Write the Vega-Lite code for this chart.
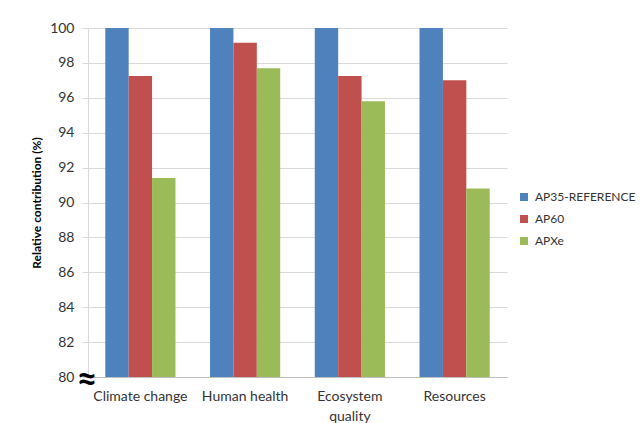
{
  "$schema": "https://vega.github.io/schema/vega-lite/v6.json",
  "width": 419,
  "height": 349,
  "autosize": {"type": "none"},
  "padding": {"left": 88, "top": 28, "right": 136, "bottom": 46},
  "background": "white",
  "config": {
    "font": "Lato",
    "view": {"stroke": null},
    "axis": {"labelFont": "Lato", "titleFont": "Lato"},
    "axisY": {
      "titleFontSize": 12,
      "titleFontWeight": "bold",
      "titleColor": "#000000",
      "titlePadding": 6,
      "labelOverlap": false,
      "labelFontSize": 14,
      "labelColor": "#333333",
      "labelPadding": 8,
      "tickSize": 6,
      "tickColor": "#d9d9d9",
      "gridColor": "#d9d9d9",
      "domainColor": "#d9d9d9"
    }
  },
  "data": {
    "values": [
      {"category": "Climate change", "scenario": "AP35-REFERENCE", "value": 100},
      {"category": "Climate change", "scenario": "AP60", "value": 97.25},
      {"category": "Climate change", "scenario": "APXe", "value": 91.4},
      {"category": "Human health", "scenario": "AP35-REFERENCE", "value": 100},
      {"category": "Human health", "scenario": "AP60", "value": 99.15},
      {"category": "Human health", "scenario": "APXe", "value": 97.7},
      {"category": "Ecosystem quality", "scenario": "AP35-REFERENCE", "value": 100},
      {"category": "Ecosystem quality", "scenario": "AP60", "value": 97.25},
      {"category": "Ecosystem quality", "scenario": "APXe", "value": 95.8},
      {"category": "Resources", "scenario": "AP35-REFERENCE", "value": 100},
      {"category": "Resources", "scenario": "AP60", "value": 97.0},
      {"category": "Resources", "scenario": "APXe", "value": 90.8}
    ]
  },
  "layer": [
    {
      "mark": {"type": "bar", "clip": true},
      "encoding": {
        "x": {
          "field": "category",
          "type": "nominal",
          "sort": ["Climate change", "Human health", "Ecosystem quality", "Resources"],
          "scale": {"paddingInner": 0.33, "paddingOuter": 0.165},
          "axis": {
            "title": null,
            "labelAngle": 0,
            "labelFontSize": 14,
            "labelColor": "#333333",
            "labelPadding": 12,
            "labelLineHeight": 20,
            "labelOverlap": false,
            "labelExpr": "datum.label == 'Ecosystem quality' ? ['Ecosystem', 'quality'] : datum.label",
            "domainColor": "#bfbfbf",
            "ticks": false
          }
        },
        "xOffset": {
          "field": "scenario",
          "type": "nominal",
          "sort": ["AP35-REFERENCE", "AP60", "APXe"],
          "scale": {"paddingInner": 0, "paddingOuter": 0}
        },
        "y": {
          "field": "value",
          "type": "quantitative",
          "title": "Relative contribution (%)",
          "scale": {"domain": [80, 100], "nice": false, "zero": false},
          "axis": {"values": [80, 82, 84, 86, 88, 90, 92, 94, 96, 98, 100]}
        },
        "color": {
          "field": "scenario",
          "type": "nominal",
          "sort": ["AP35-REFERENCE", "AP60", "APXe"],
          "scale": {
            "domain": ["AP35-REFERENCE", "AP60", "APXe"],
            "range": ["#4f81bd", "#c0504d", "#9bbb59"]
          },
          "legend": {
            "title": null,
            "orient": "none",
            "legendX": 430,
            "legendY": 163,
            "symbolType": "square",
            "symbolSize": 64,
            "symbolStrokeWidth": 0,
            "labelFontSize": 12,
            "labelColor": "#333333",
            "labelOffset": 5,
            "rowPadding": 10,
            "labelLimit": 0
          }
        }
      }
    },
    {
      "data": {"values": [{"break_value": 80, "symbol": "≈"}]},
      "mark": {"type": "text", "fontSize": 36, "fontWeight": "bold", "color": "#000000", "align": "center", "baseline": "middle", "dy": 3, "dx": -1},
      "encoding": {
        "x": {"value": 0},
        "y": {
          "field": "break_value",
          "type": "quantitative",
          "title": "Relative contribution (%)",
          "axis": {"values": [80, 82, 84, 86, 88, 90, 92, 94, 96, 98, 100]}
        },
        "text": {"field": "symbol"}
      }
    }
  ]
}
